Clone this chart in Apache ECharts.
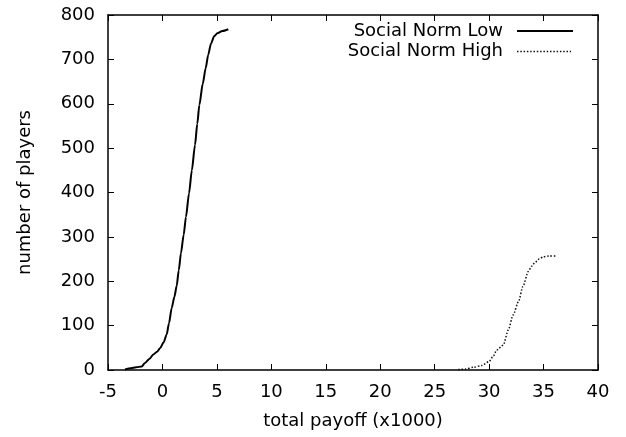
<!DOCTYPE html>
<html>
<head>
<meta charset="utf-8">
<script src="https://cdn.jsdelivr.net/npm/echarts@6/dist/echarts.min.js"></script>
<style>
  html, body { margin: 0; padding: 0; background: #fff; }
  #chart { width: 626px; height: 437px; }
</style>
</head>
<body>
<div id="chart"></div>
<script>
// Cumulative count of players against their total payoff, per treatment
const seriesNames = ['Social Norm Low', 'Social Norm High'];

const lowPayoff = [-3.44, -2.9, -2.4, -1.9, -1.6, -1.2, -0.84, -0.5, -0.22, 0.1, 0.39, 0.6, 0.85, 1.1, 1.31, 1.5, 1.7, 1.95, 2.16, 2.44, 2.7, 2.99, 3.2, 3.39, 3.7, 3.97, 4.2, 4.46, 4.75, 5.04, 5.5, 6.05];
const lowPlayers = [1, 4, 6, 8, 16, 25, 35, 41, 49, 62, 80, 105, 140, 165, 190, 225, 263, 305, 345, 398, 450, 507, 555, 597, 645, 680, 710, 736, 752, 759, 764, 768];

const highPayoff = [27.17, 27.8, 28.55, 29.3, 30.0, 30.4, 30.7, 31.3, 31.76, 32.2, 32.7, 33.1, 33.6, 33.9, 34.2, 34.6, 34.97, 35.5, 36.1];
const highPlayers = [1, 2, 6, 10, 19, 32, 45, 56, 90, 124, 154, 188, 222, 234, 242, 250, 255, 257, 257];

const xTicks = { min: -5, max: 40, step: 5 };
const yTicks = { min: 0, max: 800, step: 100 };

const FONT = 'DejaVu Sans';
const FS = 18;

const pairs = (xs, ys) => xs.map((x, i) => [x, ys[i]]);

const frameLine = { show: true, onZero: false, lineStyle: { color: '#000', width: 1.5 } };
const inTick = { show: true, inside: true, length: 6, lineStyle: { color: '#000', width: 1 } };

const chart = echarts.init(document.getElementById('chart'), null, { renderer: 'canvas' });

chart.setOption({
  animation: false,
  backgroundColor: '#fff',
  grid: { left: 108, top: 15, right: 28, bottom: 67, containLabel: false },
  xAxis: [
    {
      type: 'value', position: 'bottom',
      min: xTicks.min, max: xTicks.max, interval: xTicks.step,
      name: 'total payoff (x1000)', nameLocation: 'middle', nameGap: 42,
      nameTextStyle: { fontFamily: FONT, fontSize: FS, color: '#000' },
      axisLine: frameLine, axisTick: inTick,
      axisLabel: { margin: 13, fontFamily: FONT, fontSize: FS, color: '#000' },
      splitLine: { show: false }
    },
    {
      type: 'value', position: 'top',
      min: xTicks.min, max: xTicks.max, interval: xTicks.step,
      axisLine: frameLine, axisTick: inTick,
      axisLabel: { show: false }, splitLine: { show: false }
    }
  ],
  yAxis: [
    {
      type: 'value', position: 'left',
      min: yTicks.min, max: yTicks.max, interval: yTicks.step,
      name: 'number of players', nameLocation: 'middle', nameGap: 74,
      nameTextStyle: { fontFamily: FONT, fontSize: FS, color: '#000' },
      axisLine: frameLine, axisTick: inTick,
      axisLabel: { margin: 13, fontFamily: FONT, fontSize: FS, color: '#000' },
      splitLine: { show: false }
    },
    {
      type: 'value', position: 'right',
      min: yTicks.min, max: yTicks.max, interval: yTicks.step,
      axisLine: frameLine, axisTick: inTick,
      axisLabel: { show: false }, splitLine: { show: false }
    }
  ],
  series: [
    {
      name: seriesNames[0], type: 'line', showSymbol: false,
      smooth: 0.25, smoothMonotone: 'x',
      data: pairs(lowPayoff, lowPlayers),
      lineStyle: { color: '#000', width: 2 }
    },
    {
      name: seriesNames[1], type: 'line', showSymbol: false,
      smooth: 0.25, smoothMonotone: 'x',
      data: pairs(highPayoff, highPlayers),
      lineStyle: { color: '#111', width: 1.5, type: [1.5, 1.8] }
    }
  ],
  // key in the upper right corner: label on the left, line sample on the right
  graphic: [
    { type: 'text', x: 503, y: 31, style: { text: seriesNames[0], align: 'right', verticalAlign: 'middle', fontFamily: FONT, fontSize: FS, fill: '#000' } },
    { type: 'line', shape: { x1: 517, y1: 31, x2: 573, y2: 31 }, style: { stroke: '#000', lineWidth: 2 } },
    { type: 'text', x: 503, y: 51, style: { text: seriesNames[1], align: 'right', verticalAlign: 'middle', fontFamily: FONT, fontSize: FS, fill: '#000' } },
    { type: 'line', shape: { x1: 517, y1: 51.5, x2: 571, y2: 51.5 }, style: { stroke: '#111', lineWidth: 1.5, lineDash: [1.5, 1.8] } }
  ]
});
</script>
</body>
</html>
